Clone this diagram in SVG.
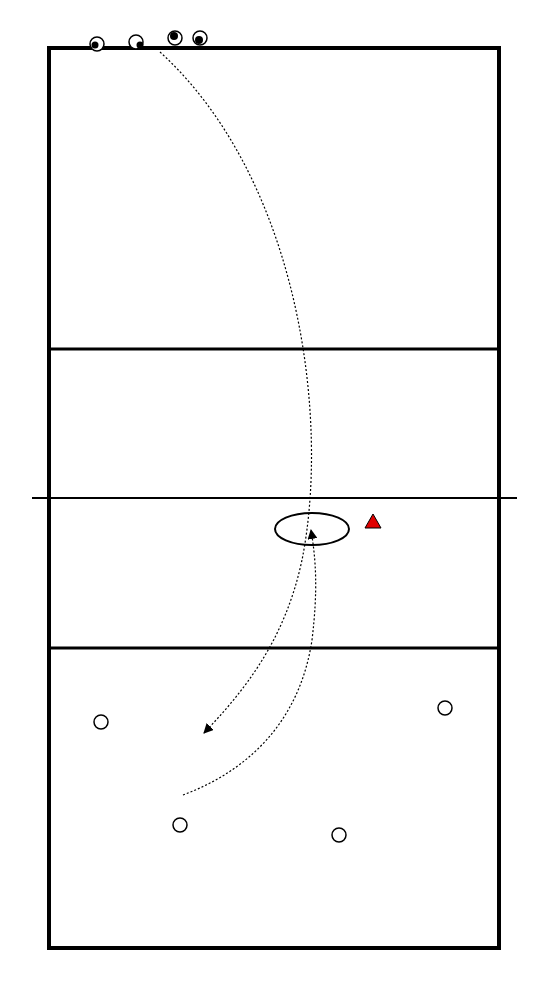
<svg xmlns="http://www.w3.org/2000/svg" width="550" height="1000" viewBox="0 0 550 1000">
<style>
.court{fill:none;stroke:#000;stroke-width:4}
.line{stroke:#000;stroke-width:3}
.net{stroke:#000;stroke-width:2}
.pl{fill:#fff;stroke:#000;stroke-width:1.5}
.dot{fill:#000}
.path{fill:none;stroke:#000;stroke-width:1.2;stroke-dasharray:2,2}
</style>
<defs>
<marker id="ah" viewBox="0 0 10 10" refX="9" refY="5" markerWidth="10" markerHeight="10" markerUnits="userSpaceOnUse" orient="auto">
<path d="M0,0 L10,5 L0,10 z" fill="#000"/>
</marker>
</defs>
<rect width="550" height="1000" fill="#fff"/>
<g id="court">
<rect class="court" x="49" y="48" width="450" height="900"/>
<line class="line" x1="49" y1="349" x2="499" y2="349"/>
<line class="line" x1="49" y1="648" x2="499" y2="648"/>
<line class="net" x1="32" y1="498" x2="517" y2="498"/>
</g>
<g id="connectors">
<path class="path" d="M160,52 C300,180 330,420 302,560 C285,640 245,690 204,733" marker-end="url(#ah)"/>
<path class="path" d="M183,795 C250,770 300,720 312,640 C318,590 316,560 311,530" marker-end="url(#ah)"/>
</g>
<g id="zone"><ellipse cx="312" cy="529" rx="37" ry="16" fill="none" stroke="#000" stroke-width="2"/></g>
<g id="cone"><polygon points="373,514 381,528 365,528" fill="#e00000" stroke="#000" stroke-width="1"/></g>
<g id="p1"><circle class="pl" cx="97" cy="44" r="7"/><circle class="dot" cx="95" cy="45" r="3.5"/></g>
<g id="p2"><circle class="pl" cx="136" cy="42" r="7"/><circle class="dot" cx="140" cy="45" r="3.5"/></g>
<g id="p3"><circle class="pl" cx="175" cy="38" r="7"/><circle class="dot" cx="174" cy="36" r="4"/></g>
<g id="p4"><circle class="pl" cx="200" cy="38" r="7"/><circle class="dot" cx="199" cy="40" r="4"/></g>
<g id="p5"><circle class="pl" cx="101" cy="722" r="7"/></g>
<g id="p6"><circle class="pl" cx="445" cy="708" r="7"/></g>
<g id="p7"><circle class="pl" cx="180" cy="825" r="7"/></g>
<g id="p8"><circle class="pl" cx="339" cy="835" r="7"/></g>
</svg>
